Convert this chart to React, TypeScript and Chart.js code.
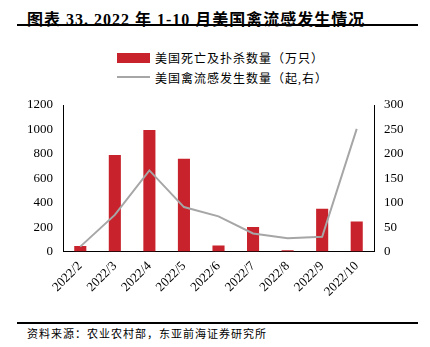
import React, { useEffect, useRef } from "react";
import { Chart, registerables } from "chart.js";

Chart.register(...registerables);

const categories = ["2022/2", "2022/3", "2022/4", "2022/5", "2022/6", "2022/7", "2022/8", "2022/9", "2022/10"];
const culled = [45, 790, 995, 760, 50, 200, 10, 350, 245];
const outbreaks = [10, 75, 166, 91, 72, 37, 27, 30, 251];
const leftTicks = [0, 200, 400, 600, 800, 1000, 1200];
const rightTicks = [0, 50, 100, 150, 200, 250, 300];

const RED = "#C8232C";
const GRAY = "#A6A6A6";
const CANVAS_TOP = 90;
const CANVAS_H = 230;

export default function App() {
  const ref = useRef<HTMLCanvasElement | null>(null);
  useEffect(() => {
    if (!ref.current) return;
    const chart = new Chart(ref.current, {
      data: {
        labels: categories,
        datasets: [
          {
            type: "line",
            label: "美国禽流感发生数量（起,右）",
            data: outbreaks,
            borderColor: GRAY,
            borderWidth: 2,
            pointRadius: 0,
            tension: 0,
            yAxisID: "y1",
            order: 0,
          },
          {
            type: "bar",
            label: "美国死亡及扑杀数量（万只）",
            data: culled,
            backgroundColor: RED,
            barPercentage: 0.7,
            categoryPercentage: 0.5,
            yAxisID: "y",
            order: 1,
          },
        ],
      },
      options: {
        animation: false,
        responsive: false,
        maintainAspectRatio: false,
        layout: { padding: { top: 15, left: 0, right: 0, bottom: 0 } },
        plugins: { legend: { display: false }, tooltip: { enabled: false } },
        scales: {
          x: {
            grid: { display: false, drawTicks: false },
            border: { color: "#000", width: 1 },
            ticks: {
              color: "#000",
              font: { family: "Liberation Serif", size: 13 },
              maxRotation: 45,
              minRotation: 45,
              padding: 7,
            },
            afterFit: (s: any) => {
              s.height = CANVAS_H - 15 - 146.5;
            },
          },
          y: {
            position: "left",
            min: 0,
            max: 1200,
            afterBuildTicks: (s: any) => {
              s.ticks = leftTicks.map((v) => ({ value: v }));
            },
            grid: { display: false, drawTicks: true, tickLength: 4, tickColor: "#000" },
            border: { color: "#000", width: 1 },
            ticks: {
              color: "#000",
              font: { family: "Liberation Serif", size: 13 },
              padding: 6,
              callback: (v: any) => String(v),
            },
            afterFit: (s: any) => {
              s.width = 63;
            },
          },
          y1: {
            position: "right",
            min: 0,
            max: 300,
            afterBuildTicks: (s: any) => {
              s.ticks = rightTicks.map((v) => ({ value: v }));
            },
            grid: { display: false, drawTicks: true, tickLength: 4, tickColor: "#000" },
            border: { color: "#000", width: 1 },
            ticks: {
              color: "#000",
              font: { family: "Liberation Serif", size: 13 },
              padding: 6,
              callback: (v: any) => String(v),
            },
            afterFit: (s: any) => {
              s.width = 56;
            },
          },
        },
      },
    } as any);
    return () => chart.destroy();
  }, []);

  const cjk = '"Liberation Serif", "Noto Sans CJK SC", serif';
  return (
    <div style={{ position: "fixed", left: 0, top: 0, width: 430, height: 347, background: "#fff", overflow: "hidden" }}>
      <div style={{ position: "absolute", left: 27, top: 6, fontFamily: cjk, fontWeight: "bold", fontSize: 16, letterSpacing: 1, whiteSpace: "nowrap", color: "#000" }}>
        图表 33. 2022 年 1-10 月美国禽流感发生情况
      </div>
      <div style={{ position: "absolute", left: 17, top: 24, width: 401, height: 2, background: "#000" }} />
      <div style={{ position: "absolute", left: 117, top: 53, width: 33, height: 10, background: RED }} />
      <div style={{ position: "absolute", left: 155, top: 49, fontFamily: cjk, fontSize: 12, letterSpacing: 1, whiteSpace: "nowrap", color: "#000" }}>
        美国死亡及扑杀数量（万只）
      </div>
      <div style={{ position: "absolute", left: 117, top: 76, width: 33, height: 2, background: GRAY }} />
      <div style={{ position: "absolute", left: 155, top: 69, fontFamily: cjk, fontSize: 12, letterSpacing: 1, whiteSpace: "nowrap", color: "#000" }}>
        美国禽流感发生数量（起,右）
      </div>
      <canvas ref={ref} width={430} height={CANVAS_H} style={{ position: "absolute", left: 0, top: CANVAS_TOP, width: 430, height: CANVAS_H }} />
      <div style={{ position: "absolute", left: 17, top: 322, width: 401, height: 2, background: "#000" }} />
      <div style={{ position: "absolute", left: 27, top: 325, fontFamily: cjk, fontSize: 11, letterSpacing: 1, whiteSpace: "nowrap", color: "#000" }}>
        资料来源：农业农村部，东亚前海证券研究所
      </div>
    </div>
  );
}
